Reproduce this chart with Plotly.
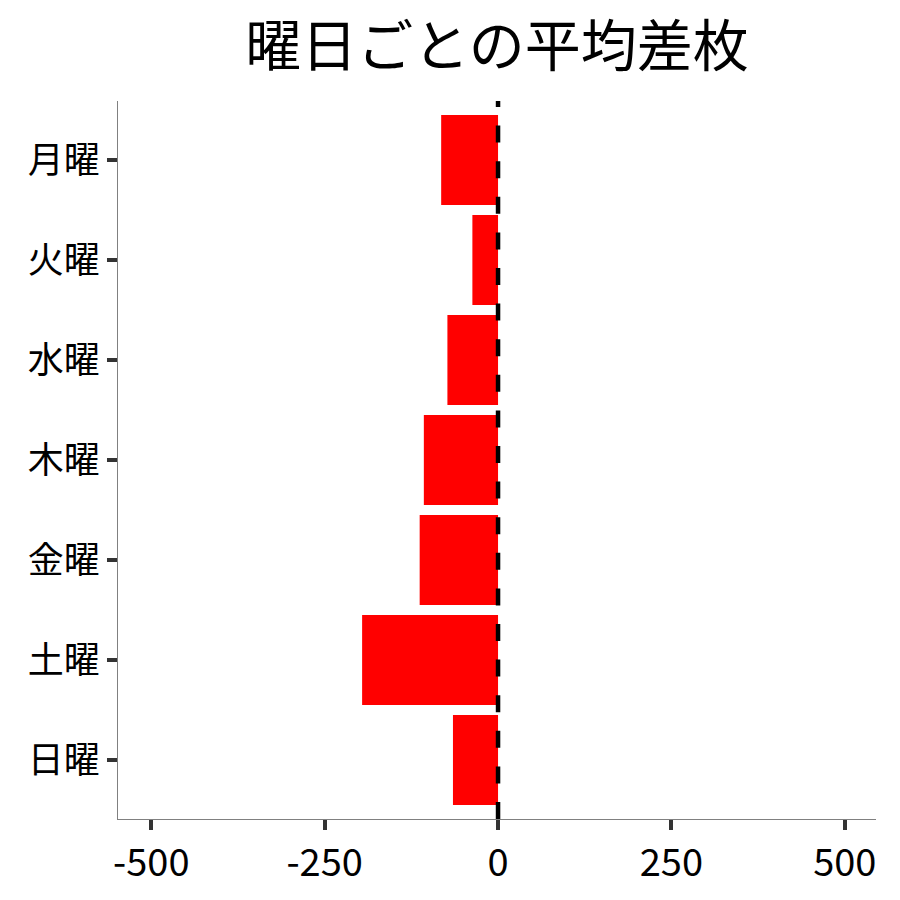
import plotly.graph_objects as go

FONT = "Noto Sans CJK JP"

days = ["月曜", "火曜", "水曜", "木曜", "金曜", "土曜", "日曜"]
avg_diff = [-82, -37, -73, -107, -113, -196, -65]
x_ticks = [-500, -250, 0, 250, 500]

fig = go.Figure()

fig.add_trace(go.Bar(
    x=avg_diff,
    y=days,
    orientation="h",
    marker=dict(color="#ff0000", line=dict(width=0)),
    width=0.9,
    showlegend=False,
))

# zero reference line, dash pattern starting from the bottom
fig.add_shape(
    type="line", xref="x", yref="paper",
    x0=0, x1=0, y0=0, y1=1,
    line=dict(color="black", width=4.5, dash="17px,18.6px"),
)

fig.update_layout(
    width=900, height=900,
    plot_bgcolor="white", paper_bgcolor="white",
    font=dict(family=FONT, color="black", size=36),
    title=dict(text="曜日ごとの平均差枚", xref="paper", x=0.5, xanchor="center",
               y=0.957, yanchor="middle", font=dict(size=56, family=FONT)),
    margin=dict(l=110, r=32, t=93, b=89),
    bargap=0.1,
)

axis_style = dict(
    showgrid=False, zeroline=False,
    showline=True, linecolor="#808080", linewidth=1.3,
    ticks="outside", ticklen=10, tickwidth=3.5, tickcolor="#333333",
)

fig.update_xaxes(
    range=[-548, 545],
    tickvals=x_ticks,
    ticktext=[str(v) for v in x_ticks],
    tickfont=dict(size=38, color="black"),
    **axis_style,
)

fig.update_yaxes(
    categoryorder="array", categoryarray=days[::-1],
    range=[-0.59, 6.59],
    tickfont=dict(size=36, color="black"),
    **axis_style,
)

fig.write_html("out.html")
